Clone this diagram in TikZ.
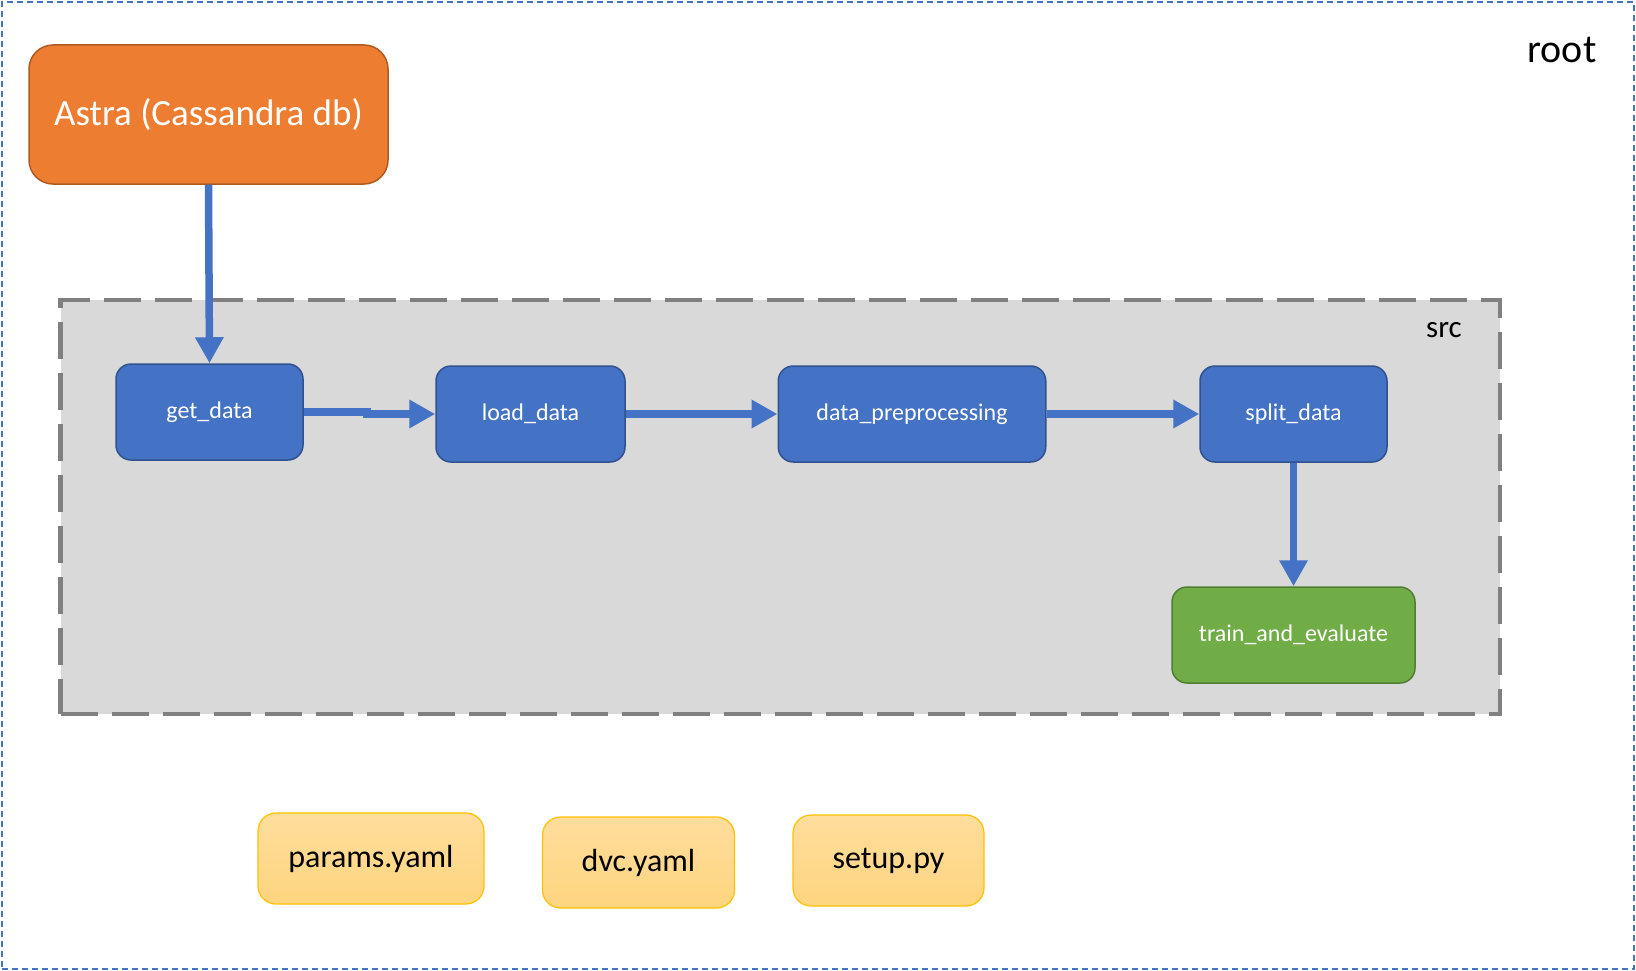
\documentclass[tikz,border=0pt]{standalone}
\usepackage{fontspec}
\setmainfont{Carlito}
\usetikzlibrary{arrows.meta}
\definecolor{blu}{HTML}{4472C4}
\definecolor{bluedge}{HTML}{2F528F}
\definecolor{org}{HTML}{ED7D31}
\definecolor{orgedge}{HTML}{AE5A21}
\definecolor{grn}{HTML}{70AD47}
\definecolor{grnedge}{HTML}{507E32}
\definecolor{ylwtop}{HTML}{FFDD9C}
\definecolor{ylwbot}{HTML}{FED57F}
\definecolor{ylwedge}{HTML}{FFC000}
\definecolor{srcfill}{HTML}{D9D9D9}
\definecolor{srcedge}{HTML}{808080}
\tikzset{
  stepbox/.style={draw=bluedge, fill=blu, line width=1.5pt, rounded corners=15pt,
    text=white, inner sep=0pt, minimum height=96pt,
    font=\fontsize{24}{28}\selectfont},
  greenbox/.style={stepbox, draw=grnedge, fill=grn},
  filebox/.style={draw=ylwedge, top color=ylwtop, bottom color=ylwbot, line width=1.2pt,
    rounded corners=18pt, inner sep=0pt, minimum height=91pt, text=black,
    font=\fontsize{32}{36}\selectfont},
  conn/.style={draw=blu, line width=7.5pt, -{Triangle[length=26pt,width=27pt]}},
}
\begin{document}
\begin{tikzpicture}[x=1pt,y=-1pt]
\useasboundingbox (0,0) rectangle (1636,971);
% outer root frame
\node[draw=blu, line width=2pt, dash pattern=on 6pt off 4pt, minimum width=1632pt, minimum height=967pt, inner sep=0pt] (root) at (818,485.5) {};
\node[font=\fontsize{40}{44}\selectfont, anchor=center] (rootlbl) at (1562,50) {root};
% src container
\node[draw=srcedge, fill=srcfill, line width=4.5pt, dash pattern=on 37pt off 14pt, minimum width=1439.5pt, minimum height=414pt, inner sep=0pt] (src) at (780.25,507) {};
\node[font=\fontsize{31}{35}\selectfont] (srclbl) at (1444,330) {src};
% Astra
\node[draw=orgedge, fill=org, line width=1.5pt, rounded corners=24pt, text=white, inner sep=0pt,
  minimum width=359pt, minimum height=139pt, font=\fontsize{37}{42}\selectfont] (astra) at (208.5,114.5) {Astra (Cassandra db)};
% steps
\node[stepbox, minimum width=187pt] (getd) at (209.5,412) {get\_data};
\node[stepbox, minimum width=189pt] (loadd) at (530.5,414) {load\_data};
\node[stepbox, minimum width=267.5pt] (prep) at (912,414) {data\_preprocessing};
\node[stepbox, minimum width=187pt] (split) at (1293.5,414) {split\_data};
\node[greenbox, minimum width=243pt] (train) at (1293.5,635) {train\_and\_evaluate};
% files
\node[filebox, minimum width=226pt] (params) at (371,858.5) {params.yaml};
\node[filebox, minimum width=192pt] (dvc) at (638.5,862.5) {dvc.yaml};
\node[filebox, minimum width=191pt] (setup) at (888.5,860.5) {setup.py};
% connectors
\coordinate (jog1) at (367,0);
\draw[conn] (astra.south) -- (getd.north);
\draw[conn] (getd.east) -- (getd.east -| jog1) |- (loadd.west);
\draw[conn] (loadd.east) -- (prep.west);
\draw[conn] (prep.east) -- (split.west);
\draw[conn] (split.south) -- (train.north);
\end{tikzpicture}
\end{document}
